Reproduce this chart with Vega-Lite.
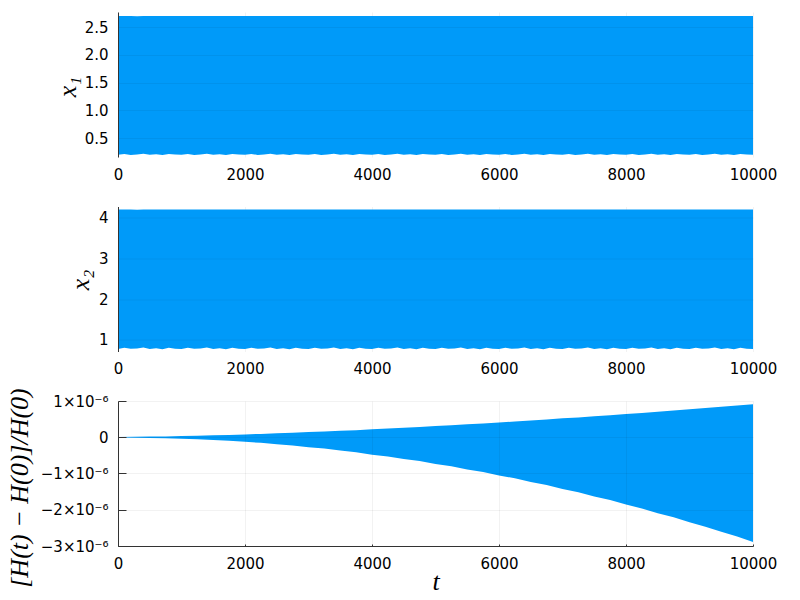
{
  "$schema": "https://vega.github.io/schema/vega-lite/v6.json",
  "background": "white",
  "padding": {"left": 5, "top": 12, "right": 5, "bottom": 5},
  "spacing": 49.5,
  "bounds": "flush",
  "config": {
    "view": {"stroke": null},
    "font": "DejaVu Sans",
    "axis": {
      "labelFont": "DejaVu Sans", "labelFontSize": 15, "labelColor": "#000",
      "titleFont": "Liberation Serif", "titleFontStyle": "italic", "titleFontWeight": "normal",
      "titleFontSize": 26, "titleColor": "#000",
      "domainColor": "#333", "domainWidth": 1, "tickColor": "#333",
      "gridColor": "#000", "gridOpacity": 0.1, "gridWidth": 0.5,
      "labelOverlap": false, "labelFlush": false
    }
  },
  "datasets": {
    "xs": [
      {"t":0,"a":0.20,"A":2.697,"b":0.77,"B":4.205},
      {"t":100,"a":0.215,"A":2.697,"b":0.80,"B":4.205},
      {"t":200,"a":0.198,"A":2.697,"b":0.775,"B":4.205},
      {"t":300,"a":0.205,"A":2.693,"b":0.785,"B":4.20},
      {"t":400,"a":0.22,"A":2.697,"b":0.81,"B":4.205},
      {"t":500,"a":0.20,"A":2.697,"b":0.77,"B":4.205},
      {"t":600,"a":0.21,"A":2.697,"b":0.79,"B":4.205},
      {"t":700,"a":0.195,"A":2.697,"b":0.765,"B":4.205},
      {"t":800,"a":0.215,"A":2.697,"b":0.80,"B":4.205},
      {"t":900,"a":0.203,"A":2.697,"b":0.78,"B":4.205},
      {"t":1000,"a":0.20,"A":2.697,"b":0.77,"B":4.205},
      {"t":1100,"a":0.215,"A":2.697,"b":0.80,"B":4.205},
      {"t":1200,"a":0.198,"A":2.697,"b":0.775,"B":4.205},
      {"t":1300,"a":0.205,"A":2.697,"b":0.785,"B":4.205},
      {"t":1400,"a":0.22,"A":2.697,"b":0.81,"B":4.205},
      {"t":1500,"a":0.20,"A":2.697,"b":0.77,"B":4.205},
      {"t":1600,"a":0.21,"A":2.697,"b":0.79,"B":4.205},
      {"t":1700,"a":0.195,"A":2.697,"b":0.765,"B":4.205},
      {"t":1800,"a":0.215,"A":2.697,"b":0.80,"B":4.205},
      {"t":1900,"a":0.203,"A":2.697,"b":0.78,"B":4.205},
      {"t":2000,"a":0.20,"A":2.697,"b":0.77,"B":4.205},
      {"t":2100,"a":0.215,"A":2.697,"b":0.80,"B":4.205},
      {"t":2200,"a":0.198,"A":2.697,"b":0.775,"B":4.205},
      {"t":2300,"a":0.205,"A":2.697,"b":0.785,"B":4.205},
      {"t":2400,"a":0.22,"A":2.697,"b":0.81,"B":4.205},
      {"t":2500,"a":0.20,"A":2.697,"b":0.77,"B":4.205},
      {"t":2600,"a":0.21,"A":2.697,"b":0.79,"B":4.205},
      {"t":2700,"a":0.195,"A":2.697,"b":0.765,"B":4.205},
      {"t":2800,"a":0.215,"A":2.697,"b":0.80,"B":4.205},
      {"t":2900,"a":0.203,"A":2.697,"b":0.78,"B":4.205},
      {"t":3000,"a":0.20,"A":2.697,"b":0.77,"B":4.205},
      {"t":3100,"a":0.215,"A":2.697,"b":0.80,"B":4.205},
      {"t":3200,"a":0.198,"A":2.697,"b":0.775,"B":4.205},
      {"t":3300,"a":0.205,"A":2.697,"b":0.785,"B":4.205},
      {"t":3400,"a":0.22,"A":2.697,"b":0.81,"B":4.205},
      {"t":3500,"a":0.20,"A":2.697,"b":0.77,"B":4.205},
      {"t":3600,"a":0.21,"A":2.697,"b":0.79,"B":4.205},
      {"t":3700,"a":0.195,"A":2.697,"b":0.765,"B":4.205},
      {"t":3800,"a":0.215,"A":2.697,"b":0.80,"B":4.205},
      {"t":3900,"a":0.203,"A":2.697,"b":0.78,"B":4.205},
      {"t":4000,"a":0.20,"A":2.697,"b":0.77,"B":4.205},
      {"t":4100,"a":0.215,"A":2.697,"b":0.80,"B":4.205},
      {"t":4200,"a":0.198,"A":2.697,"b":0.775,"B":4.205},
      {"t":4300,"a":0.205,"A":2.697,"b":0.785,"B":4.205},
      {"t":4400,"a":0.22,"A":2.697,"b":0.81,"B":4.205},
      {"t":4500,"a":0.20,"A":2.697,"b":0.77,"B":4.205},
      {"t":4600,"a":0.21,"A":2.697,"b":0.79,"B":4.205},
      {"t":4700,"a":0.195,"A":2.697,"b":0.765,"B":4.205},
      {"t":4800,"a":0.215,"A":2.697,"b":0.80,"B":4.205},
      {"t":4900,"a":0.203,"A":2.697,"b":0.78,"B":4.205},
      {"t":5000,"a":0.20,"A":2.697,"b":0.77,"B":4.205},
      {"t":5100,"a":0.215,"A":2.697,"b":0.80,"B":4.205},
      {"t":5200,"a":0.198,"A":2.697,"b":0.775,"B":4.205},
      {"t":5300,"a":0.205,"A":2.697,"b":0.785,"B":4.205},
      {"t":5400,"a":0.22,"A":2.697,"b":0.81,"B":4.205},
      {"t":5500,"a":0.20,"A":2.697,"b":0.77,"B":4.205},
      {"t":5600,"a":0.21,"A":2.697,"b":0.79,"B":4.205},
      {"t":5700,"a":0.195,"A":2.697,"b":0.765,"B":4.205},
      {"t":5800,"a":0.215,"A":2.697,"b":0.80,"B":4.205},
      {"t":5900,"a":0.203,"A":2.697,"b":0.78,"B":4.205},
      {"t":6000,"a":0.20,"A":2.697,"b":0.77,"B":4.205},
      {"t":6100,"a":0.215,"A":2.697,"b":0.80,"B":4.205},
      {"t":6200,"a":0.198,"A":2.697,"b":0.775,"B":4.205},
      {"t":6300,"a":0.205,"A":2.697,"b":0.785,"B":4.205},
      {"t":6400,"a":0.22,"A":2.697,"b":0.81,"B":4.205},
      {"t":6500,"a":0.20,"A":2.697,"b":0.77,"B":4.205},
      {"t":6600,"a":0.21,"A":2.697,"b":0.79,"B":4.205},
      {"t":6700,"a":0.195,"A":2.697,"b":0.765,"B":4.205},
      {"t":6800,"a":0.215,"A":2.697,"b":0.80,"B":4.205},
      {"t":6900,"a":0.203,"A":2.697,"b":0.78,"B":4.205},
      {"t":7000,"a":0.20,"A":2.697,"b":0.77,"B":4.205},
      {"t":7100,"a":0.215,"A":2.697,"b":0.80,"B":4.205},
      {"t":7200,"a":0.198,"A":2.697,"b":0.775,"B":4.205},
      {"t":7300,"a":0.205,"A":2.697,"b":0.785,"B":4.205},
      {"t":7400,"a":0.22,"A":2.697,"b":0.81,"B":4.205},
      {"t":7500,"a":0.20,"A":2.697,"b":0.77,"B":4.205},
      {"t":7600,"a":0.21,"A":2.697,"b":0.79,"B":4.205},
      {"t":7700,"a":0.195,"A":2.697,"b":0.765,"B":4.205},
      {"t":7800,"a":0.215,"A":2.697,"b":0.80,"B":4.205},
      {"t":7900,"a":0.203,"A":2.697,"b":0.78,"B":4.205},
      {"t":8000,"a":0.20,"A":2.697,"b":0.77,"B":4.205},
      {"t":8100,"a":0.215,"A":2.697,"b":0.80,"B":4.205},
      {"t":8200,"a":0.198,"A":2.697,"b":0.775,"B":4.205},
      {"t":8300,"a":0.205,"A":2.697,"b":0.785,"B":4.205},
      {"t":8400,"a":0.22,"A":2.697,"b":0.81,"B":4.205},
      {"t":8500,"a":0.20,"A":2.697,"b":0.77,"B":4.205},
      {"t":8600,"a":0.21,"A":2.697,"b":0.79,"B":4.205},
      {"t":8700,"a":0.195,"A":2.697,"b":0.765,"B":4.205},
      {"t":8800,"a":0.215,"A":2.697,"b":0.80,"B":4.205},
      {"t":8900,"a":0.203,"A":2.697,"b":0.78,"B":4.205},
      {"t":9000,"a":0.20,"A":2.697,"b":0.77,"B":4.205},
      {"t":9100,"a":0.215,"A":2.697,"b":0.80,"B":4.205},
      {"t":9200,"a":0.198,"A":2.697,"b":0.775,"B":4.205},
      {"t":9300,"a":0.205,"A":2.697,"b":0.785,"B":4.205},
      {"t":9400,"a":0.22,"A":2.697,"b":0.81,"B":4.205},
      {"t":9500,"a":0.20,"A":2.697,"b":0.77,"B":4.205},
      {"t":9600,"a":0.21,"A":2.697,"b":0.79,"B":4.205},
      {"t":9700,"a":0.195,"A":2.697,"b":0.765,"B":4.205},
      {"t":9800,"a":0.215,"A":2.697,"b":0.80,"B":4.205},
      {"t":9900,"a":0.203,"A":2.697,"b":0.78,"B":4.205},
      {"t":10000,"a":0.20,"A":2.697,"b":0.77,"B":4.205}
    ],
    "h": [
      {"t":0,"lo":-0.008e-6,"hi":0.008e-6},
      {"t":250,"lo":-0.012e-6,"hi":0.012e-6},
      {"t":500,"lo":-0.018e-6,"hi":0.018e-6},
      {"t":750,"lo":-0.026e-6,"hi":0.022e-6},
      {"t":1000,"lo":-0.04e-6,"hi":0.032e-6},
      {"t":1250,"lo":-0.055e-6,"hi":0.04e-6},
      {"t":1500,"lo":-0.077e-6,"hi":0.053e-6},
      {"t":1750,"lo":-0.098e-6,"hi":0.064e-6},
      {"t":2000,"lo":-0.127e-6,"hi":0.079e-6},
      {"t":2250,"lo":-0.155e-6,"hi":0.092e-6},
      {"t":2500,"lo":-0.195e-6,"hi":0.109e-6},
      {"t":2750,"lo":-0.227e-6,"hi":0.123e-6},
      {"t":3000,"lo":-0.273e-6,"hi":0.143e-6},
      {"t":3250,"lo":-0.313e-6,"hi":0.158e-6},
      {"t":3500,"lo":-0.368e-6,"hi":0.179e-6},
      {"t":3750,"lo":-0.414e-6,"hi":0.196e-6},
      {"t":4000,"lo":-0.48e-6,"hi":0.22e-6},
      {"t":4250,"lo":-0.528e-6,"hi":0.238e-6},
      {"t":4500,"lo":-0.6e-6,"hi":0.263e-6},
      {"t":4750,"lo":-0.658e-6,"hi":0.283e-6},
      {"t":5000,"lo":-0.74e-6,"hi":0.31e-6},
      {"t":5250,"lo":-0.801e-6,"hi":0.33e-6},
      {"t":5500,"lo":-0.89e-6,"hi":0.358e-6},
      {"t":5750,"lo":-0.959e-6,"hi":0.38e-6},
      {"t":6000,"lo":-1.055e-6,"hi":0.41e-6},
      {"t":6250,"lo":-1.131e-6,"hi":0.433e-6},
      {"t":6500,"lo":-1.235e-6,"hi":0.464e-6},
      {"t":6750,"lo":-1.318e-6,"hi":0.49e-6},
      {"t":7000,"lo":-1.425e-6,"hi":0.521e-6},
      {"t":7250,"lo":-1.519e-6,"hi":0.548e-6},
      {"t":7500,"lo":-1.635e-6,"hi":0.58e-6},
      {"t":7750,"lo":-1.734e-6,"hi":0.608e-6},
      {"t":8000,"lo":-1.855e-6,"hi":0.642e-6},
      {"t":8250,"lo":-1.963e-6,"hi":0.671e-6},
      {"t":8500,"lo":-2.095e-6,"hi":0.705e-6},
      {"t":8750,"lo":-2.207e-6,"hi":0.736e-6},
      {"t":9000,"lo":-2.345e-6,"hi":0.772e-6},
      {"t":9250,"lo":-2.466e-6,"hi":0.804e-6},
      {"t":9500,"lo":-2.61e-6,"hi":0.84e-6},
      {"t":9750,"lo":-2.738e-6,"hi":0.874e-6},
      {"t":10000,"lo":-2.89e-6,"hi":0.91e-6}
    ]
  },
  "vconcat": [
    {
      "width": 635, "height": 145,
      "data": {"name": "xs"},
      "mark": {"type": "area", "color": "#009af9", "opacity": 1},
      "encoding": {
        "x": {"field": "t", "type": "quantitative",
          "scale": {"domain": [0, 10000], "nice": false, "zero": false},
          "axis": {"values": [0, 2000, 4000, 6000, 8000, 10000], "format": "d", "title": null,
            "domain": false, "ticks": false, "labelPadding": 10, "grid": true}},
        "y": {"field": "a", "type": "quantitative",
          "scale": {"domain": [0.16, 2.77], "nice": false, "zero": false},
          "axis": {"values": [0.5, 1, 1.5, 2, 2.5], "format": ".1f", "title": "x₁",
            "ticks": false, "labelPadding": 10, "zindex": 1, "grid": true,
            "titleAngle": -90, "titleX": -43, "titleY": 74.5, "titleBaseline": "alphabetic", "titleAlign": "center"}},
        "y2": {"field": "A"}
      }
    },
    {
      "width": 635, "height": 145,
      "data": {"name": "xs"},
      "mark": {"type": "area", "color": "#009af9", "opacity": 1},
      "encoding": {
        "x": {"field": "t", "type": "quantitative",
          "scale": {"domain": [0, 10000], "nice": false, "zero": false},
          "axis": {"values": [0, 2000, 4000, 6000, 8000, 10000], "format": "d", "title": null,
            "domain": false, "ticks": false, "labelPadding": 10, "grid": true}},
        "y": {"field": "b", "type": "quantitative",
          "scale": {"domain": [0.71, 4.28], "nice": false, "zero": false},
          "axis": {"values": [1, 2, 3, 4], "format": "d", "title": "x₂",
            "ticks": false, "labelPadding": 10, "zindex": 1, "grid": true,
            "titleAngle": -90, "titleX": -30, "titleY": 73, "titleBaseline": "alphabetic", "titleAlign": "center"}},
        "y2": {"field": "B"}
      }
    },
    {
      "width": 635, "height": 145,
      "data": {"name": "h"},
      "mark": {"type": "area", "color": "#009af9", "opacity": 1},
      "encoding": {
        "x": {"field": "t", "type": "quantitative",
          "scale": {"domain": [0, 10000], "nice": false, "zero": false},
          "axis": {"values": [0, 2000, 4000, 6000, 8000, 10000], "format": "d", "title": "t",
            "domain": true, "ticks": true, "tickSize": -2, "labelPadding": 12, "grid": true, "zindex": 1,
            "titleY": 43, "titleBaseline": "alphabetic", "titleX": 317.5, "titleAlign": "center"}},
        "y": {"field": "lo", "type": "quantitative",
          "scale": {"domain": [-3e-6, 1e-6], "nice": false, "zero": false},
          "axis": {"values": [-3e-6, -2e-6, -1e-6, 0, 1e-6],
            "labelExpr": "datum.value == 0 ? '0' : format(round(datum.value * 1e6), 'd') + '×10⁻⁶'",
            "title": "[H(t) − H(0)]/H(0)",
            "ticks": true, "tickSize": -8, "labelPadding": 18, "zindex": 1, "grid": true,
            "titleAngle": -90, "titleX": -91, "titleY": 86.5, "titleBaseline": "alphabetic", "titleAlign": "center"}},
        "y2": {"field": "hi"}
      }
    }
  ]
}
